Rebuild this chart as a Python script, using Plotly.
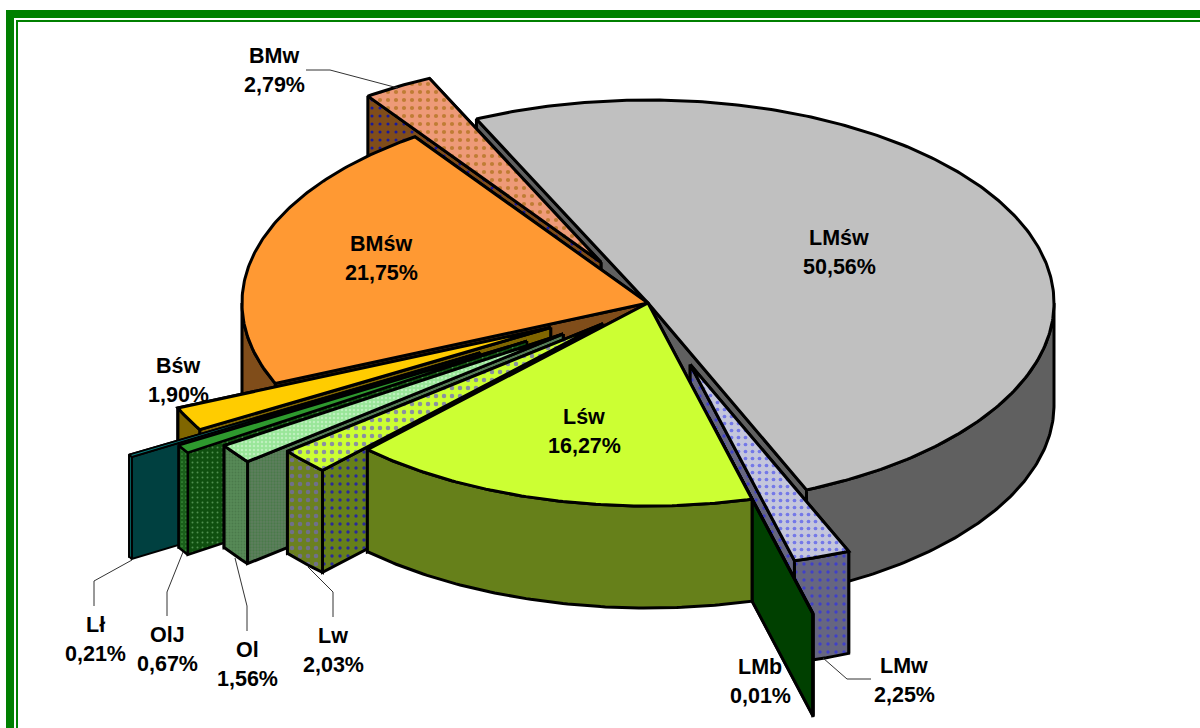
import math
import plotly.graph_objects as go

# --- data ---
names = ["LMśw", "LMw", "LMb", "Lśw", "Lw", "Ol", "OlJ", "Lł", "Bśw", "BMśw", "BMw"]
shares = [50.56, 2.25, 0.01, 16.27, 2.03, 1.56, 0.67, 0.21, 1.90, 21.75, 2.79]
explode = [0, 130, 237, 0, 61, 105, 143, 195, 109, 0, 94]
draw_order = ["LMśw", "BMw", "BMśw", "Bśw", "Lł", "OlJ", "Ol", "Lw", "LMw", "LMb", "Lśw"]

# --- styles: (base colour, pattern colour, pattern size, solidity) ---
top_style = {
    "LMśw": ("#C0C0C0",), "LMw": ("#C4C6DC", "#7478E8", 7, 0.22), "LMb": ("#004000",),
    "Lśw": ("#CCFF33",), "Lw": ("#CCFF33", "#8A90A0", 8, 0.25), "Ol": ("#99E699", "#BDF0BD", 4, 0.3),
    "OlJ": ("#2E9A2E",), "Lł": ("#0A8080",), "Bśw": ("#FFCC00",),
    "BMśw": ("#FF9933",), "BMw": ("#EE9A78", "#C07C34", 8, 0.22),
}
wall_style = {
    "LMśw": ("#606060",), "LMw": ("#666680", "#4040C8", 8, 0.14), "LMb": ("#004000",),
    "Lśw": ("#66801A",), "Lw": ("#66801A", "#2A2A9A", 8, 0.14), "Ol": ("#5F7F5F", "#4A7A4A", 3, 0.45),
    "OlJ": ("#0F4F0F", "#4F8F4F", 5, 0.12), "Lł": ("#004040",), "Bśw": ("#806600",),
    "BMśw": ("#804D1A",), "BMw": ("#804D1A", "#1A1A9A", 8, 0.12),
}
arc_style = {
    "Lw": ("#6B8020", "#70708A", 8, 0.25), "Ol": ("#578A57", "#4A7A4A", 3, 0.3),
    "OlJ": ("#1A5F1A", "#3F8F3F", 4, 0.15), "Lł": ("#0A8080",),
}
line_width = {"Lł": 2, "OlJ": 2.5}
label_pos = {
    "LMśw": (839, 252), "BMw": (274, 70), "BMśw": (381, 258), "Lśw": (584, 431), "Bśw": (178, 380),
    "Lł": (95, 639), "OlJ": (167, 649), "Ol": (247, 664), "Lw": (333, 650), "LMb": (760, 681), "LMw": (904, 680),
}
leaders = [
    [(306, 70), (330, 70), (398, 88)],
    [(132, 560), (94, 581), (94, 606)],
    [(183, 552), (167, 592), (167, 616)],
    [(235, 558), (247, 606), (247, 631)],
    [(308, 567), (333, 592), (333, 617)],
    [(823, 658), (847, 679), (871, 679)],
]

CX, CY, RX, RY, DEPTH = 648, 303, 406, 203, 102
START_ANGLE = -25.0

fig = go.Figure()


def pt(a_deg, r, ox, oy, dz=0):
    a = math.radians(a_deg)
    return ox + r * RX * math.sin(a), oy - r * RY * math.cos(a) + dz


def poly(points, style, width=3):
    color = style[0]
    kw = {}
    if len(style) > 1:
        kw["fillpattern"] = dict(shape=".", bgcolor=color, fgcolor=style[1], size=style[2],
                                 solidity=style[3], fillmode="replace")
    fig.add_trace(go.Scatter(
        x=[p[0] for p in points] + [points[0][0]],
        y=[p[1] for p in points] + [points[0][1]],
        mode="lines", fill="toself", fillcolor=color,
        line=dict(color="black", width=width), hoverinfo="skip", showlegend=False, **kw))


wedges = {}
angle = START_ANGLE
for n, s, e in zip(names, shares, explode):
    span = s * 3.6
    a0, a1 = angle, angle + span
    m = math.radians(angle + span / 2)
    ox = CX + e * math.sin(m)
    oy = CY - e * math.cos(m) / 2
    wedges[n] = (a0, a1, ox, oy)
    angle = a1

for n in draw_order:
    a0, a1, ox, oy = wedges[n]
    w = line_width.get(n, 3)
    radial = sorted([a0, a1], key=lambda a: pt(a, 1, ox, oy)[1])
    for a in radial:
        p = pt(a, 1, ox, oy)
        poly([(ox, oy), p, (p[0], p[1] + DEPTH), (ox, oy + DEPTH)], wall_style[n], w)
    lo, hi = max(a0, 90), min(a1, 270)
    if hi > lo:
        steps = max(2, int((hi - lo) * 1.5))
        arc = [lo + (hi - lo) * i / steps for i in range(steps + 1)]
        upper = [pt(a, 1, ox, oy) for a in arc]
        lower = [pt(a, 1, ox, oy, DEPTH) for a in reversed(arc)]
        poly(upper + lower, arc_style.get(n, wall_style[n]), w)
    steps = max(2, int((a1 - a0) * 1.5))
    arc = [a0 + (a1 - a0) * i / steps for i in range(steps + 1)]
    poly([(ox, oy)] + [pt(a, 1, ox, oy) for a in arc], top_style[n], w)

for pts in leaders:
    fig.add_trace(go.Scatter(x=[p[0] for p in pts], y=[p[1] for p in pts], mode="lines",
                             line=dict(color="#333333", width=1), hoverinfo="skip", showlegend=False))

for n, s in zip(names, shares):
    x, y = label_pos[n]
    pct = f"{s:.2f}".replace(".", ",") + "%"
    for text, dy in ((n, -14), (pct, 14.5)):
        fig.add_annotation(x=x, y=y + dy, text=f"<b>{text}</b>", showarrow=False, xanchor="center", yanchor="middle",
                           font=dict(family="Liberation Sans", size=21.5, color="black"))

shapes = [
    dict(type="rect", x0=10, y0=14, x1=1240, y1=780, line=dict(color="#008000", width=8), fillcolor="rgba(0,0,0,0)"),
    dict(type="rect", x0=17, y0=21, x1=1240, y1=780, line=dict(color="#008000", width=2), fillcolor="rgba(0,0,0,0)"),
]
fig.update_layout(
    width=1200, height=728, margin=dict(l=0, r=0, t=0, b=0),
    paper_bgcolor="white", plot_bgcolor="white", shapes=shapes,
    xaxis=dict(range=[0, 1200], visible=False, fixedrange=True),
    yaxis=dict(range=[728, 0], visible=False, fixedrange=True),
)
fig.write_html("out.html", config=dict(displayModeBar=False),
               post_script="document.body.style.margin='0';document.body.style.overflow='hidden';")
